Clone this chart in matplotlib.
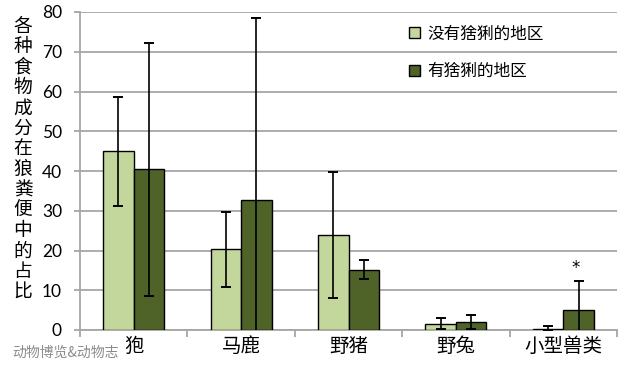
import matplotlib
matplotlib.use("Agg")
import matplotlib.pyplot as plt
import numpy as np

categories = ["狍", "马鹿", "野猪", "野兔", "小型兽类"]
series_names = ["没有猞猁的地区", "有猞猁的地区"]
no_lynx = [45.0, 20.3, 23.9, 1.6, 0.35]
no_lynx_err = [13.7, 9.4, 15.9, 1.3, 0.6]
with_lynx = [40.4, 32.6, 15.2, 1.95, 5.15]
with_lynx_err = [31.8, 45.9, 2.3, 1.8, 7.2]
y_label = "各种食物成分在狼粪便中的占比"
star_value = 15.7
watermark = "动物博览&动物志"

plt.rcParams['font.family'] = ['Noto Sans CJK SC', 'DejaVu Sans']

fig = plt.figure(figsize=(6.29, 3.72), dpi=100)
ax = fig.add_axes([80/629, 42/372, 537/629, 318/372])

x = np.arange(len(categories))
w = 0.284
light = "#c3d69b"
dark = "#4f6228"
ekw = dict(ecolor="black", elinewidth=1.2, capsize=3.3, capthick=1.4)
ax.bar(x - w/2, no_lynx, w, yerr=no_lynx_err, color=light, edgecolor="black",
       linewidth=1.0, label=series_names[0], error_kw=ekw, zorder=3)
ax.bar(x + w/2, with_lynx, w, yerr=with_lynx_err, color=dark, edgecolor="black",
       linewidth=1.0, label=series_names[1], error_kw=ekw, zorder=3)

ax.text(x[4] + w/2 - 0.03, star_value, "*", ha="center", va="center",
        fontsize=12, family="DejaVu Sans", zorder=4)

ax.set_xlim(-0.5, len(categories) - 0.5)
ax.set_ylim(0, 80)
ax.set_yticks(np.arange(0, 81, 10))
ax.yaxis.grid(True, color="#a6a6a6", linewidth=1.3, zorder=0)
ax.set_axisbelow(True)
for s in ["top", "right"]:
    ax.spines[s].set_visible(False)
for s in ["left", "bottom"]:
    ax.spines[s].set_color("#a6a6a6")
    ax.spines[s].set_linewidth(1.3)
ax.tick_params(axis="y", length=4, color="#a6a6a6", width=1.3,
               labelsize=12.5, pad=9)
for lab in ax.get_yticklabels():
    lab.set_family(["Lato", "DejaVu Sans"])
ax.set_xticks(x)
ax.set_xticklabels(categories, fontsize=14)
ax.tick_params(axis="x", length=0, pad=4)
ax.set_xticks(np.arange(-0.5, len(categories)), minor=True)
ax.tick_params(axis="x", which="minor", length=5, color="#a6a6a6", width=1.3)

leg = ax.legend(loc="upper left", bbox_to_anchor=(0.585, 1.005), frameon=False,
                fontsize=12, handlelength=0.65, handleheight=0.65,
                labelspacing=1.25, handletextpad=0.45)

fig.text(23/629, 1 - 159/372, "\n".join(y_label), ha="center", va="center",
         fontsize=13.5, linespacing=0.965, fontweight="medium")
fig.text(12/629, 19/372, watermark, ha="left", va="center",
         fontsize=10, color="#8c8c8c")

fig.savefig("out.png", dpi=100)
